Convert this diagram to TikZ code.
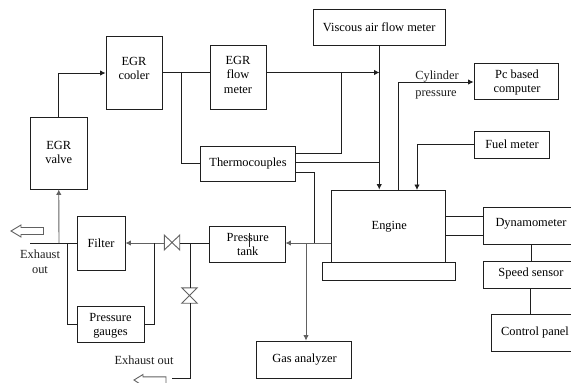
\documentclass[tikz,border=0pt]{standalone}
\usepackage{fontspec}
\setmainfont{Liberation Serif}
\usetikzlibrary{arrows.meta}
\definecolor{ink}{gray}{0.12}
\definecolor{soft}{gray}{0.38}
\newcommand{\tx}[3]{\makebox[0pt]{\hspace*{#1pt}\hspace*{#1pt}\raisebox{\dimexpr#2pt-3pt\relax}[0pt][0pt]{\begin{tabular}[c]{@{}c@{}}#3\end{tabular}}}}
\tikzset{
  box/.style={draw=ink,line width=0.9pt,inner sep=0pt,font=\fontsize{12.4}{14.5}\selectfont},
  lbl/.style={inner sep=0pt,align=center,text=ink,font=\fontsize{12.4}{14.5}\selectfont},
  wire/.style={draw=ink,line width=0.9pt},
  softwire/.style={draw=soft,line width=0.9pt},
  tip/.style={-{Latex[length=5.5pt,width=5.5pt]}},
  hollow/.style={draw=soft,line width=0.9pt,fill=white},
  valvebox/.style={inner sep=0pt,minimum width=15pt,minimum height=14.5pt},
  valvelines/.style={draw=soft,line width=0.9pt,line join=miter}
}
\begin{document}
\begin{tikzpicture}[x=1pt,y=-1pt]
\clip (0,0) rectangle (571,383);
\fill[white] (0,0) rectangle (571,383);
% boxes
\node[box,minimum width=56.5pt,minimum height=71.5pt] (valve) at (58.75,153.25) {\tx{0}{-0.5}{EGR\\valve}};
\node[box,minimum width=56pt,minimum height=73pt] (cooler) at (134,72.5) {\tx{0}{3}{EGR\\cooler}};
\node[box,minimum width=56pt,minimum height=64pt] (flow) at (238,77) {\tx{0}{1}{EGR\\flow\\meter}};
\node[box,minimum width=95pt,minimum height=35pt] (thermo) at (247.5,163.5) {\tx{0.5}{-0.5}{Thermocouples}};
\node[box,minimum width=131.5pt,minimum height=36pt] (viscous) at (379.25,27) {\tx{0}{-2}{Viscous air flow meter}};
\node[box,minimum width=84pt,minimum height=36pt] (pc) at (516,81) {\tx{1}{-1.5}{Pc based\\computer}};
\node[box,minimum width=75pt,minimum height=27pt] (fuel) at (511.5,144.5) {\tx{0.5}{-1.5}{Fuel meter}};
\node[box,minimum width=113.5pt,minimum height=72pt] (engine) at (388.25,226) {\tx{1}{-1}{Engine}};
\node[box,minimum width=133pt,minimum height=18pt] (base) at (388.5,271) {};
\node[box,minimum width=96pt,minimum height=37pt] (dyno) at (531,225.5) {\tx{0}{1.5}{Dynamometer}};
\node[box,minimum width=96pt,minimum height=27pt] (speed) at (531,274.5) {\tx{0}{0.5}{Speed sensor}};
\node[box,minimum width=87pt,minimum height=37pt] (control) at (535,332.5) {\tx{0}{-0.5}{Control panel}};
\node[box,minimum width=48pt,minimum height=54pt] (filter) at (101,243) {\tx{0}{-2}{Filter}};
\node[box,minimum width=67pt,minimum height=36pt] (gauges) at (110.5,324) {\tx{0}{-1.5}{Pressure\\gauges}};
\node[box,minimum width=75.5pt,minimum height=35.5pt] (tank) at (247.25,244.25) {\tx{0.5}{-1.5}{Pressure\\tank}};
\node[box,minimum width=95pt,minimum height=37pt] (gas) at (303.5,359.5) {\tx{1}{-0.5}{Gas analyzer}};
% valves
\node[valvebox] (v1) at (172,242.5) {};
\node[valvebox,minimum height=15pt] (v2) at (189.5,295.5) {};
\draw[valvelines] (v1.north west) -- (v1.south east) -- (v1.north east) -- (v1.south west) -- cycle;
\draw[valvelines] (v2.north west) -- (v2.north east) -- (v2.south west) -- (v2.south east) -- cycle;
% junctions
\coordinate (exL) at (30,243);
\coordinate (j59) at (59,243);
\coordinate (j67) at (67,243);
\coordinate (j154) at (154,243);
\coordinate (j190) at (190.5,243);
\coordinate (j306) at (306,243);
\coordinate (j314) at (314,243);
\coordinate (j181) at (181,72.5);
\coordinate (j341) at (341,72.5);
\coordinate (m379) at (379.5,72.5);
\coordinate (m379b) at (379.5,162);
\coordinate (eng398) at (398,190);
\coordinate (eng417) at (417,190);
\coordinate (exB) at (172,378);
% exhaust arrows
\draw[hollow] (11,231) -- (21,225) -- (21,227.5) -- (43.5,227.5) -- (43.5,234.5) -- (21,234.5) -- (21,237) -- cycle;
\draw[hollow] (134,380) -- (143,374.5) -- (143,376.8) -- (166,376.8) -- (166,384) -- (143,384) -- (143,386) -- cycle;
% connectors
\draw[wire] (exL) -- (filter.west);
\draw[softwire,tip] (j59) -- (valve.south);
\draw[wire,tip] (valve.north) |- (cooler.west |- 0,73);
\draw[wire] (cooler.east |- 0,72.5) -- (flow.west |- 0,72.5);
\draw[wire] (j181) |- (thermo.west);
\draw[wire,tip] (flow.east |- 0,72.5) -- (m379);
\draw[wire] (thermo.east |- 0,153) -| (j341);
\draw[wire] (thermo.east |- 0,162) -- (m379b);
\draw[wire] (thermo.east |- 0,172) -| (j314);
\draw[wire,tip] (viscous.south) -- (viscous.south |- engine.north);
\draw[wire,tip] (eng398) |- (pc.west |- 0,82);
\draw[wire,tip] (fuel.west) -| (eng417);
\draw[softwire,tip] (engine.west |- 0,243) -- (tank.east |- 0,243);
\draw[softwire,tip] (j306) -- (gas.north -| j306);
\draw[wire] (engine.east |- 0,216) -- (dyno.west |- 0,216);
\draw[wire] (engine.east |- 0,235) -- (dyno.west |- 0,235);
\draw[wire] (dyno.south) -- (speed.north);
\draw[wire] (speed.south -| 530,0) -- (control.north -| 530,0);
\draw[softwire,tip] (v1.west |- 0,243) -- (filter.east |- 0,243);
\draw[wire] (v1.east |- 0,243) -- (tank.west |- 0,243);
\draw[wire] (j67) |- (gauges.west);
\draw[wire] (gauges.east) -| (j154);
\draw[wire] (j190) -- (v2.north -| j190);
\draw[wire] (v2.south -| j190) |- (exB);
\draw[wire] (249,233) -- (249,247);
% free labels
\node[lbl] (l1) at (40,262) {Exhaust\\out};
\node[lbl] (l2) at (144,360) {Exhaust out};
\node[lbl] (l3) at (437,77) {Cylinder};
\node[lbl] (l4) at (436,95) {pressure};
\end{tikzpicture}
\end{document}
